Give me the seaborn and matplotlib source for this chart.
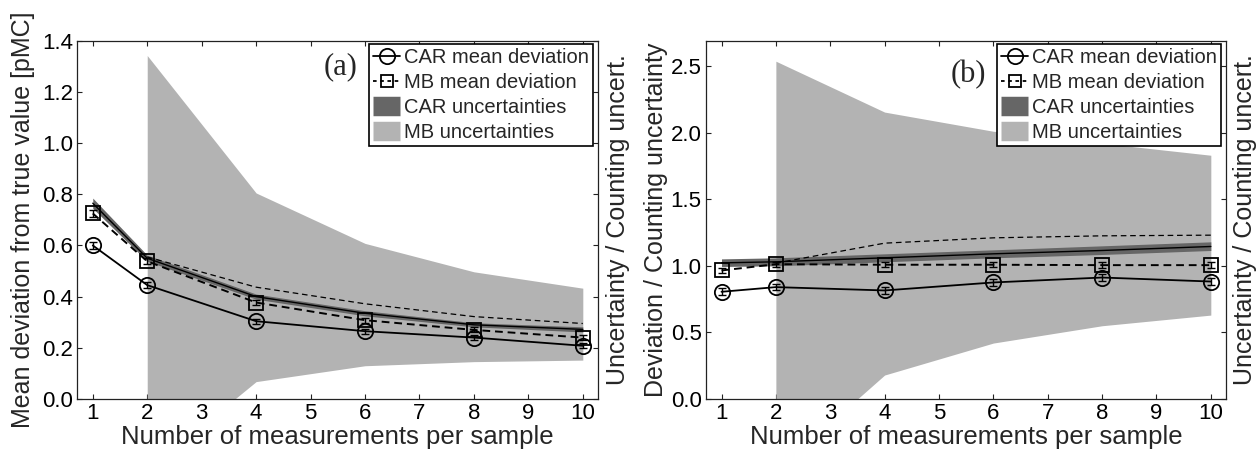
import matplotlib
matplotlib.use("Agg")
import matplotlib.pyplot as plt
from matplotlib.lines import Line2D
import seaborn as sns

# Number of measurements per sample
n_meas = [1, 2, 4, 6, 8, 10]
n_meas_mb = [2, 4, 6, 8, 10]

# (a) deviation from true value [pMC]
car_dev_a = [0.600, 0.445, 0.304, 0.265, 0.240, 0.208]
car_err_a = [0.012, 0.012, 0.010, 0.010, 0.010, 0.010]
mb_dev_a = [0.725, 0.538, 0.377, 0.308, 0.270, 0.240]
mb_err_a = [0.012, 0.012, 0.010, 0.010, 0.010, 0.010]
car_unc_mid_a = [0.765, 0.550, 0.400, 0.335, 0.290, 0.272]
car_unc_lo_a = [0.745, 0.538, 0.390, 0.325, 0.282, 0.262]
car_unc_hi_a = [0.785, 0.562, 0.410, 0.345, 0.298, 0.282]
mb_unc_mid_a = [0.555, 0.437, 0.372, 0.322, 0.295]
mb_unc_lo_a = [-0.280, 0.068, 0.130, 0.146, 0.152]
mb_unc_hi_a = [1.342, 0.805, 0.608, 0.497, 0.433]

# (b) deviation relative to counting uncertainty
car_dev_b = [0.805, 0.840, 0.815, 0.875, 0.912, 0.882]
car_err_b = [0.025, 0.025, 0.025, 0.025, 0.025, 0.025]
mb_dev_b = [0.965, 1.012, 1.008, 1.008, 1.005, 1.005]
mb_err_b = [0.020, 0.020, 0.020, 0.020, 0.020, 0.020]
car_unc_mid_b = [1.022, 1.030, 1.060, 1.090, 1.115, 1.145]
car_unc_lo_b = [0.995, 1.000, 1.030, 1.060, 1.085, 1.115]
car_unc_hi_b = [1.052, 1.060, 1.090, 1.120, 1.150, 1.180]
mb_unc_mid_b = [1.020, 1.170, 1.210, 1.225, 1.230]
mb_unc_lo_b = [-0.540, 0.180, 0.420, 0.550, 0.630]
mb_unc_hi_b = [2.536, 2.154, 2.010, 1.920, 1.830]

x_ticks = [1, 2, 3, 4, 5, 6, 7, 8, 9, 10]
y_ticks_a = [0.0, 0.2, 0.4, 0.6, 0.8, 1.0, 1.2, 1.4]
y_ticks_b = [0.0, 0.5, 1.0, 1.5, 2.0, 2.5]

legend_labels = ["CAR mean deviation", "MB mean deviation",
                 "CAR uncertainties", "MB uncertainties"]

sns.set_style("ticks")
plt.rcParams["font.family"] = ["Liberation Sans", "DejaVu Sans"]
plt.rcParams["axes.linewidth"] = 0.9
plt.rcParams["axes.edgecolor"] = "#222222"

CAR_GRAY = "#666666"
MB_GRAY = "#b3b3b3"

fig = plt.figure(figsize=(12.58, 4.5), dpi=100)
ax_a = fig.add_axes([0.0612, 0.1133, 0.4142, 0.7963])
ax_b = fig.add_axes([0.5610, 0.1133, 0.4136, 0.7963])


def draw_panel(ax, car_dev, car_err, mb_dev, mb_err,
               car_mid, car_lo, car_hi, mb_mid, mb_lo, mb_hi):
    # uncertainty bands
    ax.fill_between(n_meas_mb, mb_lo, mb_hi, color=MB_GRAY, lw=0, zorder=1)
    ax.fill_between(n_meas, car_lo, car_hi, color=CAR_GRAY, lw=0, zorder=2)
    sns.lineplot(x=n_meas, y=car_mid, ax=ax, color="black", lw=1.0,
                 legend=False, zorder=3)
    sns.lineplot(x=n_meas_mb, y=mb_mid, ax=ax, color="black", lw=0.9,
                 linestyle=(0, (4.5, 3)), legend=False, zorder=3)
    # mean deviations
    sns.lineplot(x=n_meas, y=mb_dev, ax=ax, color="black", lw=1.4,
                 linestyle=(0, (4, 2.5)), marker="s", markersize=9.5,
                 markerfacecolor="none", markeredgecolor="black",
                 markeredgewidth=1.3, legend=False, zorder=4)
    sns.lineplot(x=n_meas, y=car_dev, ax=ax, color="black", lw=1.3,
                 marker="o", markersize=11, markerfacecolor="none",
                 markeredgecolor="black", markeredgewidth=1.3,
                 legend=False, zorder=4)
    ax.errorbar(n_meas, mb_dev, yerr=mb_err, fmt="none", ecolor="black",
                elinewidth=1.0, capsize=3, capthick=1.0, zorder=4)
    ax.errorbar(n_meas, car_dev, yerr=car_err, fmt="none", ecolor="black",
                elinewidth=1.0, capsize=3, capthick=1.0, zorder=4)


draw_panel(ax_a, car_dev_a, car_err_a, mb_dev_a, mb_err_a,
           car_unc_mid_a, car_unc_lo_a, car_unc_hi_a,
           mb_unc_mid_a, mb_unc_lo_a, mb_unc_hi_a)
draw_panel(ax_b, car_dev_b, car_err_b, mb_dev_b, mb_err_b,
           car_unc_mid_b, car_unc_lo_b, car_unc_hi_b,
           mb_unc_mid_b, mb_unc_lo_b, mb_unc_hi_b)

handles = [
    Line2D([], [], color="black", lw=1.3, marker="o", markersize=11,
           markerfacecolor="none", markeredgewidth=1.3),
    Line2D([], [], color="black", lw=1.3, linestyle=(0, (2, 2)), marker="s",
           markersize=9, markerfacecolor="none", markeredgewidth=1.3),
    Line2D([], [], color=CAR_GRAY, lw=14, solid_capstyle="butt"),
    Line2D([], [], color=MB_GRAY, lw=14, solid_capstyle="butt"),
]

for ax, yt, ylim, ylabel, tag, tag_y, lab_x, rlab_x in [
    (ax_a, y_ticks_a, (0, 1.4), "Mean deviation from true value [pMC]",
     "(a)", 0.927, -0.080, 1.016),
    (ax_b, y_ticks_b, (0, 2.69), "Deviation / Counting uncertainty",
     "(b)", 0.905, -0.072, 1.013),
]:
    ax.set_xlim(0.71, 10.28)
    ax.set_ylim(*ylim)
    ax.set_xticks(x_ticks)
    ax.set_yticks(yt)
    ax.set_yticklabels([f"{v:.1f}" for v in yt])
    ax.tick_params(direction="in", length=3.5, width=0.8, top=True,
                   right=True, labelsize=16, pad=3, colors="#222222",
                   labelcolor="black")
    for s in ax.spines.values():
        s.set_visible(True)
    ax.set_xlabel("Number of measurements per sample", fontsize=18.5)
    ax.xaxis.set_label_coords(0.5, -0.072)
    ax.set_ylabel(ylabel, fontsize=18)
    ax.yaxis.set_label_coords(lab_x, 0.5)
    ax.text(rlab_x, 0.5, "Uncertainty / Counting uncert.", rotation=90,
            ha="left", va="center", fontsize=18, transform=ax.transAxes)
    ax.text(0.505, tag_y, tag, ha="center", va="center", fontsize=22,
            family="Liberation Serif", transform=ax.transAxes)
    leg = ax.legend(handles, legend_labels, loc="upper right",
                    bbox_to_anchor=(0.991, 0.991), borderaxespad=0,
                    fontsize=14.5, handlelength=1.35, handletextpad=0.2,
                    borderpad=0.2, labelspacing=0.3, fancybox=False,
                    framealpha=1, edgecolor="black")
    leg.get_frame().set_linewidth(1.2)

fig.savefig("out.png", dpi=100)
